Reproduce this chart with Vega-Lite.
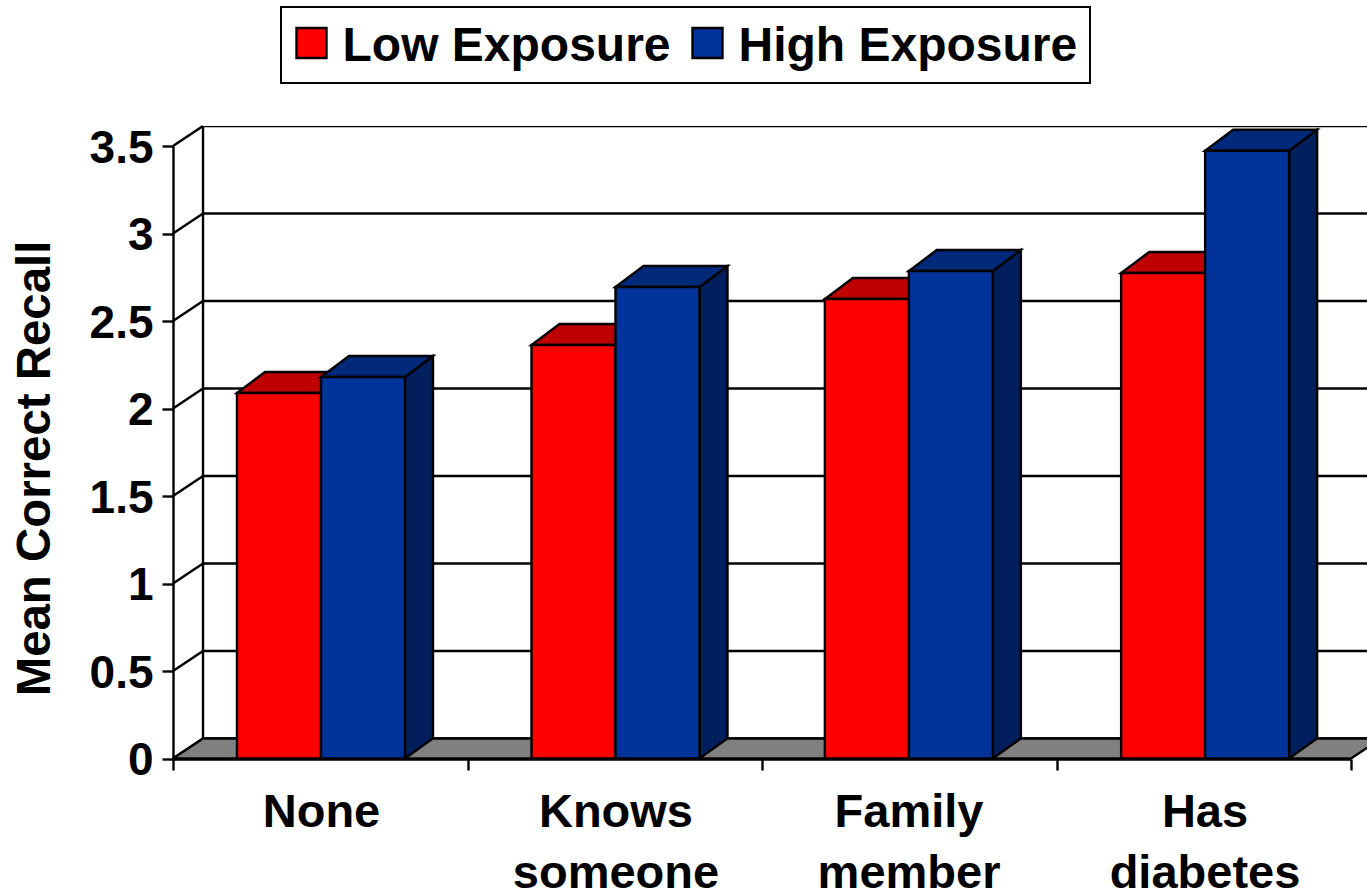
{
"$schema":"https://vega.github.io/schema/vega-lite/v6.json",
"width":1194,"height":633,
"autosize":"none",
"padding":{"left":173,"top":126,"right":0,"bottom":133},
"background":"white",
"config":{"view":{"stroke":null},"font":"Liberation Sans","legend":{"strokeWidth":2}},
"datasets":{
"bars":[
{"group":"None","series":"Low Exposure","value":2.089},
{"group":"None","series":"High Exposure","value":2.18},
{"group":"Knows someone","series":"Low Exposure","value":2.363},
{"group":"Knows someone","series":"High Exposure","value":2.694},
{"group":"Family member","series":"Low Exposure","value":2.626},
{"group":"Family member","series":"High Exposure","value":2.786},
{"group":"Has diabetes","series":"Low Exposure","value":2.774},
{"group":"Has diabetes","series":"High Exposure","value":3.473}
],
"ticks":[{"tick":0},{"tick":0.5},{"tick":1},{"tick":1.5},{"tick":2},{"tick":2.5},{"tick":3},{"tick":3.5}]
},
"resolve":{"axis":{"x":"independent","y":"independent"}},
"layer":[
{"data":{"name":"ticks"},
 "transform":[{"calculate":"datum.tick+0.1143","as":"back"}],
 "mark":{"type":"rule","stroke":"black","strokeWidth":2.4,"clip":true},
 "encoding":{
  "x":{"datum":0.1019,"type":"quantitative","scale":{"domain":[0,4],"range":[0,1178],"nice":false,"zero":false},
   "axis":{"orient":"bottom","title":null,"values":[0,1,2,3,4],"labels":false,"ticks":true,"tickSize":11,"tickWidth":2.4,"tickColor":"black","domain":true,"domainColor":"black","domainWidth":2.4,"grid":false}},
  "x2":{"datum":4.2},
  "y":{"field":"back","type":"quantitative","scale":{"domain":[0,3.5],"range":[632.5,20],"nice":false,"zero":false},
   "axis":{"orient":"left","values":[0,0.5,1,1.5,2,2.5,3,3.5],"format":"~g","title":"Mean Correct Recall","grid":false,"domain":true,"domainColor":"black","domainWidth":2.4,"ticks":true,"tickColor":"black","tickWidth":2.4,"tickSize":11,"labelFont":"Liberation Sans","labelFontWeight":"bold","labelFontSize":46,"labelColor":"black","labelPadding":9,"labelOffset":2,"labelOverlap":false,"labelBound":false,"labelFlush":false,"titleFont":"Liberation Sans","titleFontWeight":"bold","titleFontSize":47.4,"titleColor":"black","titleAngle":-90,"titleAlign":"center","titleBaseline":"alphabetic","titleX":-124,"titleY":342}}
 }},
{"data":{"name":"ticks"},
 "transform":[{"calculate":"datum.tick+0.1143","as":"back"}],
 "mark":{"type":"rule","stroke":"black","strokeWidth":2.4},
 "encoding":{
  "x":{"datum":0,"type":"quantitative","axis":null},
  "x2":{"datum":0.1019},
  "y":{"field":"tick","type":"quantitative","axis":null},
  "y2":{"field":"back"}
 }},
{"data":{"values":[{"edge":"wall"}]},
 "mark":{"type":"rule","stroke":"black","strokeWidth":2.4},
 "encoding":{
  "x":{"datum":0.1019,"type":"quantitative","axis":null},
  "y":{"datum":0.1143,"type":"quantitative","axis":null},
  "y2":{"datum":3.6143}
 }},
{"data":{"values":[{"t":0},{"t":1}]},
 "transform":[
  {"calculate":"datum.t*0.1019","as":"fx"},
  {"calculate":"4+datum.t*0.1019","as":"fx2"},
  {"calculate":"datum.t*0.1143","as":"fy"}],
 "mark":{"type":"area","orient":"horizontal","fill":"#808080","stroke":"black","strokeWidth":2.4,"clip":true},
 "encoding":{
  "x":{"field":"fx","type":"quantitative","axis":null,"stack":null},
  "x2":{"field":"fx2"},
  "y":{"field":"fy","type":"quantitative","axis":null}
 }},
{"data":{"name":"bars"},
 "transform":[
  {"calculate":"[0.2173,1.2173,2.2135,3.2195][indexof(['None','Knows someone','Family member','Has diabetes'],datum.group)]+(datum.series==='High Exposure'?0.2852:0)","as":"x0"},
  {"calculate":"datum.x0+0.2852","as":"x1"},
  {"calculate":"[0,1]","as":"t"},
  {"flatten":["t"]},
  {"calculate":"datum.x1+datum.t*0.0951","as":"sx"},
  {"calculate":"datum.value+datum.t*0.12","as":"sy"},
  {"calculate":"datum.t*0.1143","as":"sb"}],
 "mark":{"type":"area","orient":"vertical","stroke":"black","strokeWidth":2.4},
 "encoding":{
  "x":{"field":"sx","type":"quantitative","axis":null},
  "y":{"field":"sy","type":"quantitative","axis":null,"stack":null},
  "y2":{"field":"sb"},
  "detail":[{"field":"group"},{"field":"series"}],
  "fill":{"condition":{"test":"datum.series==='Low Exposure'","value":"#990000"},"value":"#001F5C"}
 }},
{"data":{"name":"bars"},
 "transform":[
  {"calculate":"[0.2173,1.2173,2.2135,3.2195][indexof(['None','Knows someone','Family member','Has diabetes'],datum.group)]+(datum.series==='High Exposure'?0.2852:0)","as":"x0"},
  {"calculate":"datum.x0+0.2852","as":"x1"},
  {"calculate":"[0,1]","as":"t"},
  {"flatten":["t"]},
  {"calculate":"datum.x0+datum.t*0.0951","as":"tx"},
  {"calculate":"datum.x1+datum.t*0.0951","as":"tx2"},
  {"calculate":"datum.value+datum.t*0.12","as":"sy"}],
 "mark":{"type":"area","orient":"horizontal","stroke":"black","strokeWidth":2.4},
 "encoding":{
  "x":{"field":"tx","type":"quantitative","axis":null,"stack":null},
  "x2":{"field":"tx2"},
  "y":{"field":"sy","type":"quantitative","axis":null},
  "detail":[{"field":"group"},{"field":"series"}],
  "fill":{"condition":{"test":"datum.series==='Low Exposure'","value":"#BF0000"},"value":"#00297A"}
 }},
{"data":{"name":"bars"},
 "transform":[
  {"calculate":"[0.2173,1.2173,2.2135,3.2195][indexof(['None','Knows someone','Family member','Has diabetes'],datum.group)]+(datum.series==='High Exposure'?0.2852:0)","as":"x0"},
  {"calculate":"datum.x0+0.2852","as":"x1"}],
 "mark":{"type":"bar","stroke":"black","strokeWidth":2.4},
 "encoding":{
  "x":{"field":"x0","type":"quantitative","axis":null},
  "x2":{"field":"x1"},
  "y":{"field":"value","type":"quantitative","axis":null,"stack":null},
  "y2":{"datum":0},
  "color":{"field":"series","type":"nominal","scale":{"domain":["Low Exposure","High Exposure"],"range":["#FF0000","#003399"]},
   "legend":{"orient":"none","legendX":108,"legendY":-119,"direction":"horizontal","title":null,"strokeColor":"black","fillColor":"white","padding":12,"symbolType":"square","symbolSize":900,"symbolOffset":-5.5,"symbolStrokeColor":"black","symbolStrokeWidth":2.4,"symbolOpacity":1,"labelFont":"Liberation Sans","labelFontWeight":"bold","labelFontSize":48,"labelColor":"black","labelOffset":7,"columnPadding":16,"labelLimit":500,"encoding":{"labels":{"dy":{"value":4}}}}}
 }},
{"data":{"values":[{"label":"x"}]},
 "mark":{"type":"rule","opacity":0},
 "encoding":{
  "x":{"datum":0,"type":"quantitative",
   "axis":{"orient":"bottom","title":null,"values":[0.5025,1.5025,2.4975,3.5025],"labelExpr":"datum.value<1?'None':datum.value<2?['Knows','someone']:datum.value<3?['Family','member']:['Has','diabetes']","ticks":false,"domain":false,"grid":false,"labelFont":"Liberation Sans","labelFontWeight":"bold","labelFontSize":47,"labelColor":"black","labelPadding":30,"labelLineHeight":61,"labelLimit":500,"labelBaseline":"top","labelOverlap":false,"labelBound":false,"labelFlush":false}}
 }}
]
}
